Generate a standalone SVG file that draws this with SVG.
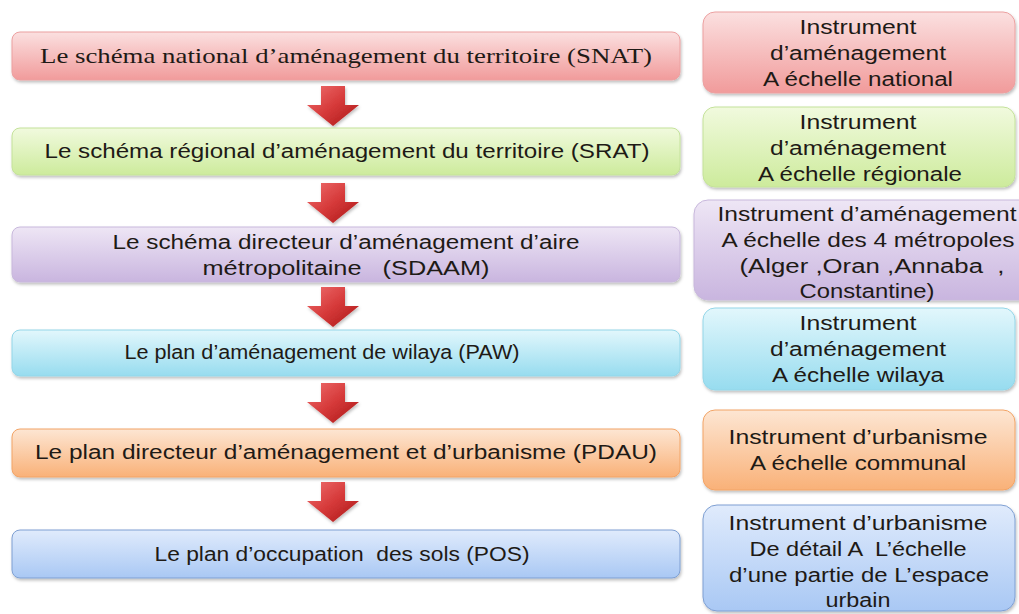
<svg xmlns="http://www.w3.org/2000/svg" width="1019" height="614" viewBox="0 0 1019 614">
<defs>
<filter id="sh" x="-5%" y="-20%" width="110%" height="150%">
<feDropShadow dx="1" dy="2" stdDeviation="1.5" flood-color="#000" flood-opacity="0.25"/>
</filter>
<linearGradient id="gRed" x1="0" y1="0" x2="0" y2="1"><stop offset="0" stop-color="#fbe0e0"/><stop offset="1" stop-color="#f19b9b"/></linearGradient>
<linearGradient id="gGreen" x1="0" y1="0" x2="0" y2="1"><stop offset="0" stop-color="#f1fade"/><stop offset="1" stop-color="#cdeb9c"/></linearGradient>
<linearGradient id="gPurple" x1="0" y1="0" x2="0" y2="1"><stop offset="0" stop-color="#eee6f5"/><stop offset="1" stop-color="#c9b5df"/></linearGradient>
<linearGradient id="gCyan" x1="0" y1="0" x2="0" y2="1"><stop offset="0" stop-color="#e2f7fc"/><stop offset="1" stop-color="#97dcef"/></linearGradient>
<linearGradient id="gOrange" x1="0" y1="0" x2="0" y2="1"><stop offset="0" stop-color="#fde6d3"/><stop offset="1" stop-color="#f9b178"/></linearGradient>
<linearGradient id="gBlue" x1="0" y1="0" x2="0" y2="1"><stop offset="0" stop-color="#e0ebfc"/><stop offset="1" stop-color="#a9c8f4"/></linearGradient>
<linearGradient id="gArrow" x1="0" y1="0" x2="1" y2="1"><stop offset="0" stop-color="#ef6f6f"/><stop offset="0.5" stop-color="#d63a3a"/><stop offset="1" stop-color="#a81515"/></linearGradient>
<path id="arrow" d="M-12,0 H12 V19 H26 L0,40 L-26,19 H-12 Z"/>
</defs>
<style>
.box{filter:url(#sh);stroke-width:1}
.red{fill:url(#gRed);stroke:#eca0a0}
.green{fill:url(#gGreen);stroke:#c4e29a}
.purple{fill:url(#gPurple);stroke:#c8b8dc}
.cyan{fill:url(#gCyan);stroke:#94d6e8}
.orange{fill:url(#gOrange);stroke:#f2a466}
.blue{fill:url(#gBlue);stroke:#7e9fd2}
text{font-family:"Liberation Sans",Arial,sans-serif;font-size:20px;fill:#1e1a16;text-anchor:middle}
text.serif{font-family:"Liberation Serif","Times New Roman",serif;font-size:21px}
.arr{fill:url(#gArrow);filter:url(#sh)}
</style>
<rect width="1019" height="614" fill="#fff"/>

<g id="connectors">
<use href="#arrow" class="arr" x="333" y="86"/>
<use href="#arrow" class="arr" x="333" y="183"/>
<use href="#arrow" class="arr" x="333" y="287"/>
<use href="#arrow" class="arr" x="333" y="383"/>
<use href="#arrow" class="arr" x="333" y="482"/>
</g>

<g id="snat">
<rect class="box red" x="12" y="32" width="668" height="48" rx="8"/>
<text class="serif" x="346" y="63" textLength="612" lengthAdjust="spacingAndGlyphs">Le schéma national d’aménagement du territoire (SNAT)</text>
</g>
<g id="srat">
<rect class="box green" x="12" y="128" width="668" height="47" rx="8"/>
<text x="347" y="158" textLength="605" lengthAdjust="spacingAndGlyphs">Le schéma régional d’aménagement du territoire (SRAT)</text>
</g>
<g id="sdaam">
<rect class="box purple" x="12" y="227" width="668" height="55" rx="8"/>
<text x="346" y="249" textLength="467" lengthAdjust="spacingAndGlyphs">Le schéma directeur d’aménagement d’aire</text>
<text x="346" y="275" textLength="287" lengthAdjust="spacingAndGlyphs" xml:space="preserve">métropolitaine   (SDAAM)</text>
</g>
<g id="paw">
<rect class="box cyan" x="12" y="330" width="668" height="46" rx="8"/>
<text x="322" y="359" textLength="395" lengthAdjust="spacingAndGlyphs">Le plan d’aménagement de wilaya (PAW)</text>
</g>
<g id="pdau">
<rect class="box orange" x="12" y="429" width="668" height="48" rx="8"/>
<text x="346" y="459" textLength="622" lengthAdjust="spacingAndGlyphs">Le plan directeur d’aménagement et d’urbanisme  (PDAU)</text>
</g>
<g id="pos">
<rect class="box blue" x="12" y="530" width="668" height="48" rx="8"/>
<text x="342" y="561" textLength="375" lengthAdjust="spacingAndGlyphs" xml:space="preserve">Le plan d’occupation  des sols (POS)</text>
</g>

<g id="r-snat">
<rect class="box red" x="703" y="12" width="312" height="81" rx="12"/>
<text x="858" y="34" textLength="117" lengthAdjust="spacingAndGlyphs">Instrument</text>
<text x="858" y="60" textLength="176" lengthAdjust="spacingAndGlyphs">d’aménagement</text>
<text x="858" y="86" textLength="190" lengthAdjust="spacingAndGlyphs">A échelle national</text>
</g>
<g id="r-srat">
<rect class="box green" x="703" y="107" width="312" height="80" rx="12"/>
<text x="858" y="129" textLength="117" lengthAdjust="spacingAndGlyphs">Instrument</text>
<text x="858" y="155" textLength="176" lengthAdjust="spacingAndGlyphs">d’aménagement</text>
<text x="860" y="181" textLength="204" lengthAdjust="spacingAndGlyphs">A échelle régionale</text>
</g>
<g id="r-sdaam">
<rect class="box purple" x="694" y="200" width="345" height="100" rx="14"/>
<text x="867" y="221" textLength="299" lengthAdjust="spacingAndGlyphs">Instrument d’aménagement</text>
<text x="868" y="247" textLength="293" lengthAdjust="spacingAndGlyphs">A échelle des 4 métropoles</text>
<text x="872" y="273" textLength="265" lengthAdjust="spacingAndGlyphs" xml:space="preserve">(Alger ,Oran ,Annaba  ,</text>
<text x="867" y="298" textLength="135" lengthAdjust="spacingAndGlyphs">Constantine)</text>
</g>
<g id="r-paw">
<rect class="box cyan" x="703" y="308" width="312" height="82" rx="12"/>
<text x="858" y="330" textLength="117" lengthAdjust="spacingAndGlyphs">Instrument</text>
<text x="858" y="356" textLength="176" lengthAdjust="spacingAndGlyphs">d’aménagement</text>
<text x="858" y="382" textLength="172" lengthAdjust="spacingAndGlyphs">A échelle wilaya</text>
</g>
<g id="r-pdau">
<rect class="box orange" x="703" y="410" width="312" height="80" rx="12"/>
<text x="858" y="444" textLength="259" lengthAdjust="spacingAndGlyphs">Instrument d’urbanisme</text>
<text x="858" y="470" textLength="216" lengthAdjust="spacingAndGlyphs">A échelle communal</text>
</g>
<g id="r-pos">
<rect class="box blue" x="703" y="505" width="312" height="106" rx="14"/>
<text x="858" y="530" textLength="259" lengthAdjust="spacingAndGlyphs">Instrument d’urbanisme</text>
<text x="858" y="556" textLength="217" lengthAdjust="spacingAndGlyphs" xml:space="preserve">De détail A  L’échelle</text>
<text x="859" y="582" textLength="260" lengthAdjust="spacingAndGlyphs">d’une partie de L’espace</text>
<text x="858" y="607" textLength="65" lengthAdjust="spacingAndGlyphs">urbain</text>
</g>
</svg>
